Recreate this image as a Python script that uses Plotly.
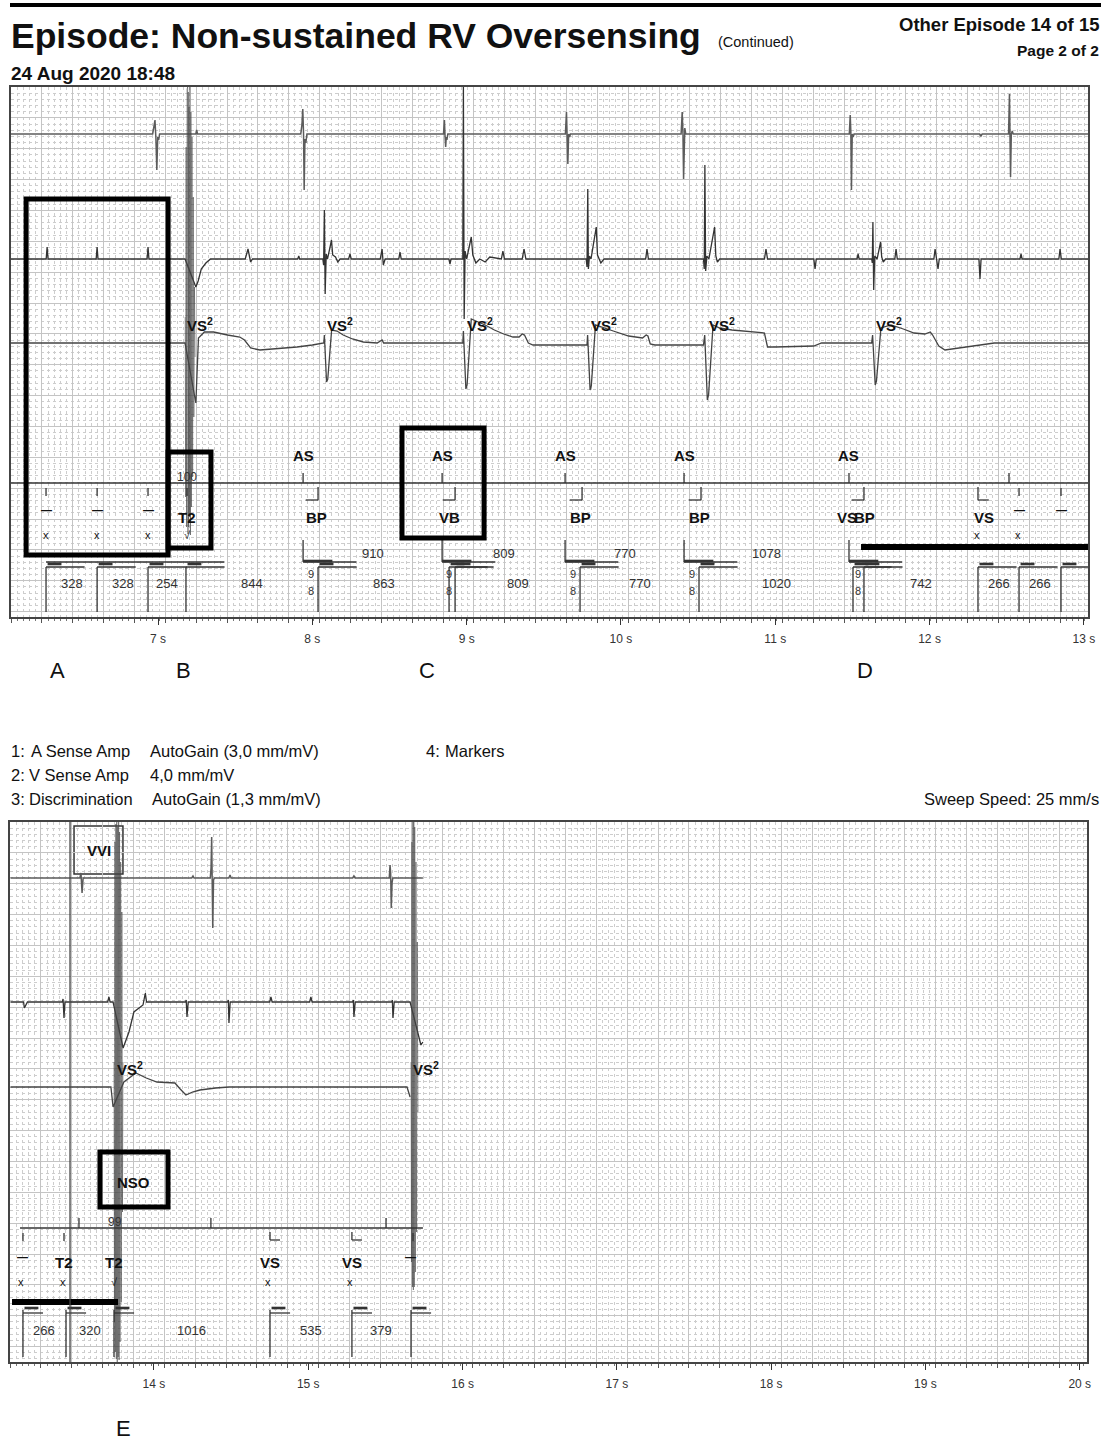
import plotly.graph_objects as go

W, H = 1108, 1441

# ---------------- DATA (read off the printed strip) ----------------
# time in seconds; amplitude in strip units relative to each channel baseline
TOP_RANGE = (6.047, 13.027)
BOT_RANGE = (13.067, 20.047)
TOP_SECONDS = [7, 8, 9, 10, 11, 12, 13]
BOT_SECONDS = [14, 15, 16, 17, 18, 19, 20]

# 1: A Sense Amp (top strip)
TOP_A = [(6.047, 0), (6.965, 0), (6.974, 8), (6.980, 14), (6.986, -4), (6.992, -36), (6.998, -3), (7.004, -6), (7.010, 0),
         (7.245, 0), (7.250, 4), (7.256, 0),
         (7.925, 0), (7.933, 10), (7.938, 25), (7.943, 0), (7.947, -56), (7.952, -5), (7.958, -9), (7.965, 0),
         (8.850, 0), (8.856, 14), (8.860, -2), (8.864, -13), (8.868, -3), (8.872, -6), (8.878, 0),
         (9.640, 0), (9.647, 22), (9.652, -2), (9.656, -30), (9.661, 0), (9.667, -3), (9.673, 0),
         (10.390, 0), (10.397, 22), (10.402, 0), (10.406, -45), (10.410, -2), (10.414, 6), (10.420, 0),
         (11.480, 0), (11.486, 19), (11.490, 2), (11.494, -56), (11.499, 0), (11.505, -3), (11.511, 0),
         (12.325, 0), (12.333, -2), (12.341, 0),
         (12.512, 0), (12.518, 40), (12.522, 5), (12.525, -43), (12.530, 0), (12.536, 3), (12.542, 0), (13.027, 0)]

# 2: V Sense Amp (top strip)
TOP_V = [(6.047, 0), (6.275, 0), (6.281, 12), (6.287, 0), (6.599, 0), (6.605, 12), (6.611, 0),
         (6.929, 0), (6.935, 12), (6.941, 0), (7.175, 0),
         (7.245, -28), (7.260, -22), (7.280, -10), (7.310, -4), (7.340, 0),
         (7.565, 0), (7.575, 6), (7.583, 10), (7.592, 3), (7.600, -3), (7.612, 0),
         (7.905, 0), (7.912, 3), (7.918, 0),
         (8.068, 0), (8.073, -6), (8.078, 49), (8.083, -35), (8.090, 5), (8.098, 0), (8.115, 12), (8.124, 19),
         (8.132, 4), (8.150, 2), (8.165, -3), (8.180, 0), (8.235, 0), (8.244, 5), (8.252, 0),
         (8.440, 0), (8.452, 10), (8.460, -6), (8.472, 0), (8.560, 0), (8.568, 7), (8.576, 0),
         (8.885, 0), (8.892, -5), (8.899, 0),
         (8.975, 0), (8.979, 172), (8.984, -60), (8.990, 8), (9.000, 0), (9.030, 22), (9.040, 4), (9.060, -4),
         (9.085, 0), (9.120, -3), (9.150, 2), (9.225, 0), (9.235, 8), (9.245, 0), (9.360, 0), (9.372, 10), (9.384, 0),
         (9.775, 0), (9.780, -8), (9.785, 70), (9.789, -10), (9.796, 3), (9.806, 0), (9.840, 32), (9.848, 4),
         (9.870, -4), (9.890, 0), (10.160, 0), (10.169, 10), (10.178, 0),
         (10.535, 0), (10.540, -10), (10.544, 94), (10.549, -12), (10.557, 3), (10.570, 0), (10.607, 32), (10.615, 3),
         (10.625, -3), (10.640, 0), (10.930, 0), (10.940, 10), (10.950, 0), (11.250, 0), (11.258, -10), (11.266, 0),
         (11.530, 0), (11.537, 5), (11.544, 0),
         (11.625, 0), (11.629, -4), (11.633, 37), (11.638, -31), (11.645, 3), (11.660, 0), (11.683, 17), (11.690, 2),
         (11.700, -3), (11.715, 0), (11.775, 0), (11.783, 10), (11.791, 0),
         (12.028, 0), (12.036, 10), (12.046, 0), (12.055, -10), (12.063, 0), (12.320, 0), (12.327, -20), (12.334, 0),
         (12.586, 0), (12.593, 5), (12.600, 0), (12.838, 0), (12.846, 10), (12.854, 0), (13.027, 0)]

# 3: Discrimination (top strip)
TOP_D = [(6.047, 0), (7.175, 0),
         (7.245, -60), (7.262, 5), (7.300, 11), (7.360, 11), (7.450, 8), (7.530, 6), (7.560, 3), (7.600, -5),
         (7.660, -7), (7.750, -6), (7.900, -4), (8.000, -2), (8.065, 0),
         (8.074, 0), (8.078, 8), (8.092, -39), (8.100, -36), (8.125, 13), (8.160, 12), (8.200, 8), (8.260, 4),
         (8.330, 1), (8.420, 0), (8.452, 3), (8.462, 0), (8.975, 0),
         (8.979, 12), (8.995, -46), (9.003, -42), (9.030, 24), (9.060, 22), (9.120, 18), (9.180, 13), (9.240, 9),
         (9.300, 6), (9.340, 6), (9.360, 9), (9.375, 8), (9.400, 0), (9.430, -2), (9.780, -2),
         (9.784, 8), (9.800, -47), (9.808, -43), (9.835, 18), (9.870, 16), (9.950, 12), (10.050, 7), (10.140, 5),
         (10.163, 8), (10.175, 7), (10.190, -1), (10.220, -2), (10.535, -2),
         (10.543, 8), (10.560, -57), (10.568, -52), (10.597, 18), (10.640, 15), (10.720, 13), (10.800, 12),
         (10.880, 11), (10.930, 10), (10.950, -4), (11.000, -4), (11.250, -3), (11.300, 0), (11.625, 0),
         (11.631, 8), (11.648, -42), (11.656, -38), (11.685, 15), (11.750, 18), (11.830, 14), (11.900, 10),
         (11.970, 9), (12.005, 11), (12.020, 8), (12.060, -3), (12.100, -7), (12.200, -5), (12.300, -3),
         (12.420, 0), (13.027, 0)]

# noise burst crossing all channels (absolute strip units)
TOP_NOISE = [(7.176, 300), (7.179, 120), (7.182, 470), (7.185, 90), (7.188, 528), (7.190, 85), (7.192, 530),
             (7.194, 83), (7.196, 525), (7.198, 90), (7.201, 510), (7.204, 100), (7.207, 530), (7.210, 82),
             (7.213, 505), (7.216, 110), (7.220, 480), (7.224, 140), (7.228, 420), (7.232, 200), (7.236, 330),
             (7.240, 260)]

# bottom strip channels
BOT_A = [(13.070, 0), (13.520, 0), (13.527, 5), (13.534, -15), (13.541, 0), (13.735, 0), (13.805, 0),
         (14.245, 0), (14.253, 2), (14.260, 0), (14.365, 0), (14.370, 10), (14.374, 41), (14.378, -5),
         (14.381, -50), (14.386, -2), (14.392, 0), (14.485, 0), (14.493, 3), (14.500, 0), (15.288, 0),
         (15.296, 2), (15.304, 0), (15.525, 0), (15.530, 13), (15.534, 5), (15.538, -30), (15.543, -5),
         (15.548, 0), (15.660, 0), (15.715, 0), (15.743, 0)]
BOT_V = [(13.070, 0), (13.155, 0), (13.160, -6), (13.170, -3), (13.180, 0), (13.405, 0), (13.411, 3),
         (13.417, -16), (13.423, 0), (13.700, 0), (13.708, 5), (13.716, 0), (13.735, 0),
         (13.800, -46), (13.838, -30), (13.870, -10), (13.929, -3), (13.944, 9), (13.952, 0),
         (14.205, 0), (14.209, 2), (14.214, -15), (14.222, 0), (14.478, 0), (14.482, 2), (14.486, -21),
         (14.494, 0), (14.750, 0), (14.758, 5), (14.766, 0), (15.009, 0), (15.017, 5), (15.025, 0),
         (15.288, 0), (15.292, 2), (15.296, -15), (15.304, 0), (15.541, 0), (15.545, 2), (15.549, -16),
         (15.557, 0), (15.660, 0), (15.712, -30), (15.730, -43), (15.743, -40)]
BOT_D = [(13.070, 0), (13.721, 0), (13.735, -20), (13.805, 5), (13.883, 14), (13.950, 9), (14.019, 5),
         (14.136, 4), (14.170, -2), (14.207, -8), (14.250, -5), (14.298, -3), (14.400, -1), (14.486, 0),
         (15.640, 0), (15.660, -10)]
BOT_NOISE = [[(13.741, 300), (13.744, 40), (13.747, 520), (13.750, 10), (13.753, 538), (13.756, 3),
              (13.759, 540), (13.762, 0), (13.765, 535), (13.768, 5), (13.771, 540), (13.774, 2),
              (13.777, 530), (13.780, 20), (13.784, 500), (13.788, 60), (13.792, 450), (13.796, 150),
              (13.799, 300)],
             [(15.666, 300), (15.669, 100), (15.672, 520), (15.675, 75), (15.678, 540), (15.681, 72),
              (15.684, 540), (15.687, 75), (15.690, 535), (15.694, 90), (15.698, 500), (15.702, 130),
              (15.706, 420), (15.711, 250)]]

# 4: Markers, top strip
TOP_AS = [7.940, 8.841, 9.638, 10.409, 11.478]
TOP_A_EXTRA = [12.515]
TOP_AA_LABELS = ["910", "809", "770", "1078"]
TOP_V_EVENTS = [6.274, 6.605, 6.935, 7.181, 8.037, 8.886, 8.925, 9.735, 10.506, 11.504, 11.575,
                12.314, 12.580, 12.852]
TOP_VV_LABELS = ["328", "328", "254", "844", "863", "", "809", "770", "1020", "", "742", "266", "266"]
TOP_LABELS = [(7.188, "T2"), (8.024, "BP"), (8.892, "VB"), (9.735, "BP"), (10.506, "BP"),
              (11.466, "VS"), (11.580, "BP"), (12.353, "VS")]
TOP_DASHES = [6.274, 6.605, 6.935, 12.580, 12.852]
TOP_XMARKS = [(6.274, "x"), (6.605, "x"), (6.935, "x"), (7.188, "√"), (12.308, "x"), (12.573, "x")]
TOP_BELOW_TICKS = [6.274, 6.605, 6.935, 7.188, 12.580, 12.852]
TOP_BP_BRACKETS = [8.037, 8.925, 9.748, 10.519, 11.575]
TOP_VS_BRACKETS = [12.314]
TOP_98 = [7.992, 8.886, 9.690, 10.461, 11.536]
TOP_VS2 = [7.175, 8.085, 8.990, 9.790, 10.555, 11.640]
TOP_RATE = (7.188, "100")

# 4: Markers, bottom strip
BOT_A_TICKS = [13.514, 14.369, 15.504]
BOT_BELOW_TICKS = [13.151, 13.417, 15.679]
BOT_V_EVENTS = [13.151, 13.430, 13.741, 14.752, 15.283, 15.666]
BOT_VV_LABELS = ["266", "320", "1016", "535", "379"]
BOT_LABELS = [(13.417, "T2"), (13.741, "T2"), (14.752, "VS"), (15.283, "VS")]
BOT_DASHES = [13.151, 15.660]
BOT_XMARKS = [(13.138, "x"), (13.411, "x"), (13.741, "√"), (14.739, "x"), (15.270, "x")]
BOT_VS_BRACKETS = [14.752, 15.283]
BOT_VS2 = [13.745, 15.666]
BOT_RATE = (13.747, "99")
BOT_ONSET = 13.456

# ---------------- STYLE / LAYOUT ----------------
FONT = "Liberation Sans"
TOP_H, BOT_H = 530, 540
TOP_BASE = {"A": 483, "V": 358, "D": 274, "M": 134}
BOT_BASE = {"A": 484, "V": 360, "D": 275, "M": 134}
MM5 = 30.86  # 5 mm grid in strip units

fig = go.Figure()


def line(pts, xa, ya, color="#3a3a3a", width=1.2, base=0.0):
    xs, ys = [], []
    for p in pts:
        if p is None:
            xs.append(None); ys.append(None)
        else:
            xs.append(p[0]); ys.append(p[1] + base)
    fig.add_trace(go.Scatter(x=xs, y=ys, mode="lines", line=dict(color=color, width=width),
                             xaxis=xa, yaxis=ya, hoverinfo="skip", showlegend=False))


def segs(seglist, xa, ya, color="#333", width=1.3):
    pts = []
    for (x0, y0, x1, y1) in seglist:
        pts += [(x0, y0), (x1, y1), None]
    line(pts, xa, ya, color, width)


def txt(x, y, s, xr, yr, size=14, bold=False, xanchor="center", yanchor="middle", color="#111", family=FONT):
    fig.add_annotation(x=x, y=y, xref=xr, yref=yr, text=("<b>%s</b>" % s) if bold else s, showarrow=False,
                       xanchor=xanchor, yanchor=yanchor, font=dict(family=family, size=size, color=color))


def ptxt(px, py, s, size=14, bold=False, xanchor="left", yanchor="middle", color="#111"):
    txt(px / W, 1 - py / H, s, "paper", "paper", size, bold, xanchor, yanchor, color)


# ---- channels ----
line(TOP_A, "x", "y", "#5c5c5c", 1.5, TOP_BASE["A"])
line(TOP_V, "x", "y", "#333", 1.3, TOP_BASE["V"])
line(TOP_D, "x", "y", "#444", 1.3, TOP_BASE["D"])
line(TOP_NOISE, "x", "y", "rgba(70,70,70,0.55)", 1.0)
line(BOT_A, "x2", "y2", "#5c5c5c", 1.5, BOT_BASE["A"])
line(BOT_V, "x2", "y2", "#333", 1.3, BOT_BASE["V"])
line(BOT_D, "x2", "y2", "#444", 1.3, BOT_BASE["D"])
for nz in BOT_NOISE:
    line(nz, "x2", "y2", "rgba(70,70,70,0.55)", 1.0)

# ---- markers: top ----
M = TOP_BASE["M"]
s = [(TOP_RANGE[0], M, TOP_RANGE[1], M)]
s += [(t, M, t, M + 10) for t in TOP_AS + TOP_A_EXTRA]
s += [(t, M - 5, t, M - 13) for t in TOP_BELOW_TICKS]
s += [(t, M - 4, t, M - 17) for t in TOP_BP_BRACKETS] + [(t - 0.08, M - 17, t, M - 17) for t in TOP_BP_BRACKETS]
s += [(t, M - 4, t, M - 17) for t in TOP_VS_BRACKETS] + [(t, M - 17, t + 0.07, M - 17) for t in TOP_VS_BRACKETS]
s += [(t, 77, t, 55) for t in TOP_AS] + [(t, 55, t + 0.345, 55) for t in TOP_AS]
s += [(TOP_V_EVENTS[0], 55, 7.43, 55)]
s += [(t, 50, t, 5) for t in TOP_V_EVENTS] + [(t, 50, t + 0.25, 50) for t in TOP_V_EVENTS]
segs(s, "x", "y", "#333", 1.3)
thick = [(t, 56, t + 0.19, 56) for t in TOP_AS] + [(t + 0.01, 53, t + 0.10, 53) for t in TOP_V_EVENTS]
segs(thick, "x", "y", "#333", 2.6)

for t in TOP_AS:
    txt(t, 162, "AS", "x", "y", 15, True)
for t, lab in TOP_LABELS:
    txt(t, 100, lab, "x", "y", 15, True)
for t in TOP_DASHES:
    txt(t, 107, "—", "x", "y", 11, True)
for t, lab in TOP_XMARKS:
    txt(t, 82, lab, "x", "y", 11)
for a, b, lab in zip(TOP_AS[:-1], TOP_AS[1:], TOP_AA_LABELS):
    txt((a + b) / 2, 64, lab, "x", "y", 13, color="#333")
for a, b, lab in zip(TOP_V_EVENTS[:-1], TOP_V_EVENTS[1:], TOP_VV_LABELS):
    if lab:
        txt((a + b) / 2, 34, lab, "x", "y", 13, color="#333")
for t in TOP_98:
    txt(t, 43, "9", "x", "y", 11, color="#333")
    txt(t, 26, "8", "x", "y", 11, color="#333")
for t in TOP_VS2:
    txt(t, 293, "VS<sup>2</sup>", "x", "y", 15, True, xanchor="left")
txt(TOP_RATE[0], 140, TOP_RATE[1], "x", "y", 12, color="#333")

# ---- markers: bottom ----
M = BOT_BASE["M"]
s = [(13.132, M, 15.743, M)]
s += [(t, M, t, M + 10) for t in BOT_A_TICKS]
s += [(t, M - 5, t, M - 13) for t in BOT_BELOW_TICKS]
s += [(t, M - 4, t, M - 12) for t in BOT_VS_BRACKETS] + [(t, M - 12, t + 0.065, M - 12) for t in BOT_VS_BRACKETS]
s += [(t, 52, t, 5) for t in BOT_V_EVENTS] + [(t, 49, t + 0.13, 49) for t in BOT_V_EVENTS]
segs(s, "x2", "y2", "#333", 1.3)
segs([(t + 0.01, 54, t + 0.10, 54) for t in BOT_V_EVENTS], "x2", "y2", "#333", 2.6)
for t, lab in BOT_LABELS:
    txt(t, 100, lab, "x2", "y2", 15, True)
for t in BOT_DASHES:
    txt(t, 105, "—", "x2", "y2", 11, True)
for t, lab in BOT_XMARKS:
    txt(t, 80, lab, "x2", "y2", 11)
for a, b, lab in zip(BOT_V_EVENTS[:-1], BOT_V_EVENTS[1:], BOT_VV_LABELS):
    txt((a + b) / 2, 32, lab, "x2", "y2", 13, color="#333")
for t in BOT_VS2:
    txt(t, 294, "VS<sup>2</sup>", "x2", "y2", 15, True, xanchor="left")
txt(BOT_RATE[0], 140, BOT_RATE[1], "x2", "y2", 12, color="#333")

# ---- highlight boxes and bars ----
shapes = []
for (x0, x1, y0, y1) in [(6.145, 7.065, 62, 418), (7.065, 7.343, 69, 165), (8.581, 9.113, 79, 189)]:
    shapes.append(dict(type="rect", xref="x", yref="y", x0=x0, x1=x1, y0=y0, y1=y1,
                       line=dict(color="black", width=5)))
shapes.append(dict(type="line", xref="x", yref="y", x0=11.556, x1=TOP_RANGE[1], y0=70, y1=70,
                   line=dict(color="black", width=6)))
shapes.append(dict(type="line", xref="x2", yref="y2", x0=13.080, x1=13.767, y0=60, y1=60,
                   line=dict(color="black", width=6)))
shapes.append(dict(type="rect", xref="x2", yref="y2", x0=13.650, x1=14.091, y0=155, y1=210,
                   line=dict(color="black", width=5)))
shapes.append(dict(type="rect", xref="x2", yref="y2", x0=13.482, x1=13.799, y0=488, y1=536,
                   line=dict(color="#333", width=1.5), fillcolor="white", layer="below"))
shapes.append(dict(type="line", xref="x2", yref="y2", x0=BOT_ONSET, x1=BOT_ONSET, y0=0, y1=BOT_H,
                   line=dict(color="#444", width=1.3)))
shapes.append(dict(type="line", xref="paper", yref="paper", x0=10 / W, x1=1101 / W, y0=1 - 5 / H, y1=1 - 5 / H,
                   line=dict(color="black", width=4)))
fig.update_layout(shapes=shapes)
txt(13.870, 180, "NSO", "x2", "y2", 15, True)
txt(13.644, 512, "VVI", "x2", "y2", 15, True)

# ---- header / footer text ----
ptxt(9, 36, "Episode: Non-sustained RV Oversensing", 35.5, True)
ptxt(716, 42, "(Continued)", 14.5)
ptxt(1101, 24, "Other Episode 14 of 15", 18.5, True, xanchor="right")
ptxt(1101, 50, "Page 2 of 2", 15.5, True, xanchor="right")
ptxt(9, 73, "24 Aug 2020 18:48", 19, True)
for lx, ly, lab in [(57, 670, "A"), (183, 670, "B"), (427, 670, "C"), (865, 670, "D"), (123, 1428, "E")]:
    ptxt(lx, ly, lab, 22, xanchor="center")
LS = 16.5
ptxt(9, 751, "1:", LS); ptxt(29, 751, "A Sense Amp", LS); ptxt(148, 751, "AutoGain (3,0 mm/mV)", LS)
ptxt(9, 775, "2:", LS); ptxt(27, 775, "V Sense Amp", LS); ptxt(148, 775, "4,0 mm/mV", LS)
ptxt(9, 799, "3:", LS); ptxt(27, 799, "Discrimination", LS); ptxt(150, 799, "AutoGain (1,3 mm/mV)", LS)
ptxt(424, 751, "4:", LS); ptxt(443, 751, "Markers", LS)
ptxt(1101, 799, "Sweep Speed: 25 mm/s", LS, xanchor="right")


# ---- axes ----
def xgrid(dom, rng):
    return dict(domain=dom, range=list(rng), tickmode="linear", tick0=rng[0], dtick=0.2,
                showgrid=True, gridcolor="#c4c4c4", gridwidth=1, showticklabels=False,
                ticks="outside", ticklen=4, tickcolor="#555", automargin=False,
                minor=dict(tickmode="linear", tick0=rng[0], dtick=0.04, showgrid=True, gridcolor="#cdcdcd",
                           griddash="dot", gridwidth=1, ticks="outside", ticklen=2, tickcolor="#777"),
                showline=True, linecolor="#444", linewidth=1.6, mirror=True, zeroline=False, fixedrange=True)


def ygrid(dom, h):
    return dict(domain=dom, range=[0, h], tickmode="linear", tick0=h - 17 * MM5, dtick=MM5,
                showgrid=True, gridcolor="#c4c4c4", gridwidth=1, showticklabels=False, ticks="",
                automargin=False,
                minor=dict(tickmode="linear", tick0=h - 17 * MM5, dtick=MM5 / 5, showgrid=True,
                           gridcolor="#cdcdcd", griddash="dot", gridwidth=1),
                showline=True, linecolor="#444", linewidth=1.6, mirror=True, zeroline=False, fixedrange=True)


def xlabels(over, anchor, rng, secs):
    return dict(overlaying=over, anchor=anchor, range=list(rng), tickmode="array", tickvals=secs,
                ticktext=["%d s" % s for s in secs], ticks="outside", ticklen=7, tickcolor="#333",
                showgrid=False, showline=False, zeroline=False, ticklabelstandoff=4, automargin=False,
                tickfont=dict(family=FONT, size=12, color="#333"), fixedrange=True)


fig.update_layout(
    width=W, height=H, autosize=False, margin=dict(l=0, r=0, t=0, b=0, pad=0, autoexpand=False),
    paper_bgcolor="white", plot_bgcolor="white", showlegend=False,
    xaxis=xgrid([11 / W, 1088 / W], TOP_RANGE),
    yaxis=ygrid([1 - 617 / H, 1 - 87 / H], TOP_H),
    xaxis2=xgrid([10 / W, 1087 / W], BOT_RANGE),
    yaxis2=ygrid([1 - 1362 / H, 1 - 822 / H], BOT_H),
    xaxis3=xlabels("x", "y", TOP_RANGE, TOP_SECONDS),
    xaxis4=xlabels("x2", "y2", BOT_RANGE, BOT_SECONDS),
)
fig.layout.yaxis2.anchor = "x2"
fig.layout.xaxis2.anchor = "y2"
for xa, ya, t in [("x3", "y", TOP_SECONDS[0]), ("x4", "y2", BOT_SECONDS[0])]:
    fig.add_trace(go.Scatter(x=[t], y=[0], xaxis=xa, yaxis=ya, mode="markers", marker=dict(opacity=0),
                             hoverinfo="skip", showlegend=False))

fig.write_html("out.html", config={"displayModeBar": False, "responsive": False},
               post_script="document.body.style.margin='0px';document.body.style.overflow='hidden';")
